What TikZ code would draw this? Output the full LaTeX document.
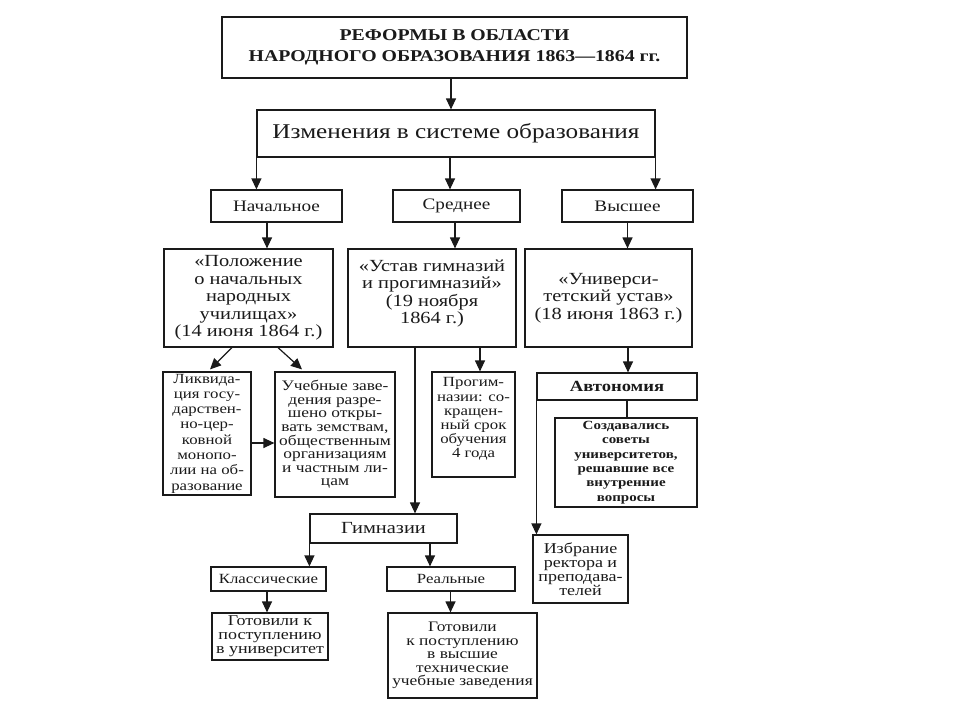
\documentclass[tikz,border=0pt]{standalone}
\usepackage{fontspec}
\setmainfont[FakeStretch=1.2]{Liberation Serif}
\usetikzlibrary{arrows.meta,calc}
\definecolor{ink}{HTML}{1A1A1A}
\begin{document}
\begin{tikzpicture}[x=1pt,y=-1pt,
  box/.style={draw=ink, line width=1.2pt, align=center, inner sep=0pt, text=ink},
  wh/.style 2 args={minimum width=#1pt, minimum height=#2pt},
  fs/.style 2 args={font=\fontsize{#1}{#2}\selectfont},
  fsb/.style 2 args={font=\fontsize{#1}{#2}\selectfont\bfseries},
  arr/.style={draw=ink, line width=1.2pt, -{Triangle[length=11pt,width=10pt]}},
  ln/.style={draw=ink, line width=1.2pt}]
\fill[white] (0,0) rectangle (960,720);
\useasboundingbox (0,0) rectangle (960,720);

% nodes
\node[box, wh={465}{61}, fsb={16.5}{21}] (title) at (454.5,47.5)
  {РЕФОРМЫ В ОБЛАСТИ\\НАРОДНОГО ОБРАЗОВАНИЯ 1863—1864 гг.};
\node[box, wh={398}{47}, fs={21}{24}] (izm) at (456,133.5) {Изменения в системе образования};
\node[box, wh={131}{32}, fs={16}{19}] (nach) at (276.5,206) {Начальное};
\node[box, wh={127}{32}, fs={16}{19}] (sred) at (456.5,206) {Среднее};
\node[box, wh={131}{32}, fs={16}{19}] (vys) at (627.5,206) {Высшее};

\node[box, wh={169}{98}, fs={17}{17.5}] (pol) at (248.5,298)
  {«Положение\\о начальных\\народных\\училищах»\\(14 июня 1864 г.)};
\node[box, wh={168}{98}, fs={17}{17.5}] (ust) at (432,298)
  {«Устав гимназий\\и прогимназий»\\(19 ноября\\1864 г.)\\[-4.5pt]};
\node[box, wh={167}{98}, fs={17}{17.5}] (univ) at (608.5,298)
  {«Универси-\\тетский устав»\\(18 июня 1863 г.)};

\node[box, wh={88}{123}, fs={14}{15.3}] (likv) at (207,433.5)
  {Ликвида-\\ция госу-\\дарствен-\\но-цер-\\ковной\\монопо-\\лии на об-\\разование};
\node[box, wh={120}{125}, fs={14.5}{13.6}] (ucheb) at (335,434.5)
  {Учебные заве-\\дения разре-\\шено откры-\\вать земствам,\\общественным\\организациям\\и частным ли-\\цам};
\node[box, wh={83}{105}, fs={14}{14.2}] (prog) at (473.5,424.5)
  {Прогим-\\назии: со-\\кращен-\\ный срок\\обучения\\4 года\\[-1pt]};
\node[box, wh={160}{27}, fsb={15.5}{18}] (avt) at (617,386.5) {Автономия};
\node[box, wh={142}{89}, fsb={12.5}{14.3}] (sozd) at (626,462.5)
  {Создавались\\советы\\университетов,\\решавшие все\\внутренние\\вопросы};
\node[box, wh={95}{68}, fs={15}{14.2}] (izbr) at (580.5,569)
  {Избрание\\ректора и\\преподава-\\телей};

\node[box, wh={147}{29}, fs={17}{19}] (gimn) at (383.5,528.5) {Гимназии};
\node[box, wh={115}{24}, fs={14}{16}] (klass) at (268.5,579) {Классические};
\node[box, wh={128}{24}, fs={14}{16}] (real) at (451,579) {Реальные};
\node[box, wh={116}{47}, fs={15}{14}] (got1) at (270,636.5)
  {Готовили к\\поступлению\\в университет};
\node[box, wh={149}{85}, fs={14.5}{13.6}] (got2) at (462.5,655.5)
  {Готовили\\к поступлению\\в высшие\\технические\\учебные заведения};

% connectors
\draw[arr] ([xshift=-3.5pt]title.south) -- ([xshift=-3.5pt]title.south |- izm.north);
\draw[arr] (izm.south west) -- (izm.south west |- nach.north);
\draw[arr] ([xshift=-6pt]izm.south) -- ([xshift=-6pt]izm.south |- sred.north);
\draw[arr] (izm.south east) -- (izm.south east |- vys.north);

\draw[arr] ([xshift=-9.5pt]nach.south) -- ([xshift=-9.5pt]nach.south |- pol.north);
\draw[arr] ([xshift=-1.5pt]sred.south) -- ([xshift=-1.5pt]sred.south |- ust.north);
\draw[arr] (vys.south) -- (vys.south |- univ.north);

\draw[arr] ([xshift=-16.5pt]pol.south) -- ([xshift=3pt,yshift=2pt]likv.north);
\draw[arr] ([xshift=29.5pt]pol.south) -- ([xshift=-33pt,yshift=2pt]ucheb.north);
\draw[arr] ([yshift=-9.5pt]likv.east) -- ([yshift=-9.5pt]likv.east -| ucheb.west);

\draw[arr] ([xshift=-17pt]ust.south) -- ([xshift=-17pt]ust.south |- gimn.north);
\draw[arr] ([xshift=48pt]ust.south) -- ([xshift=48pt]ust.south |- prog.north);

\draw[arr] ([xshift=19.5pt]univ.south) -- ([xshift=19.5pt]univ.south |- avt.north);
\draw[ln] ([xshift=10pt]avt.south) -- ([xshift=10pt]avt.south |- sozd.north);
\draw[arr] (avt.south west) -- (avt.south west |- izbr.north);

\draw[arr] (gimn.south west) -- (gimn.south west |- klass.north);
\draw[arr] ([xshift=46.5pt]gimn.south) -- ([xshift=46.5pt]gimn.south |- real.north);
\draw[arr] ([xshift=-1.5pt]klass.south) -- ([xshift=-1.5pt]klass.south |- got1.north);
\draw[arr] ([xshift=-0.5pt]real.south) -- ([xshift=-0.5pt]real.south |- got2.north);
\end{tikzpicture}
\end{document}
